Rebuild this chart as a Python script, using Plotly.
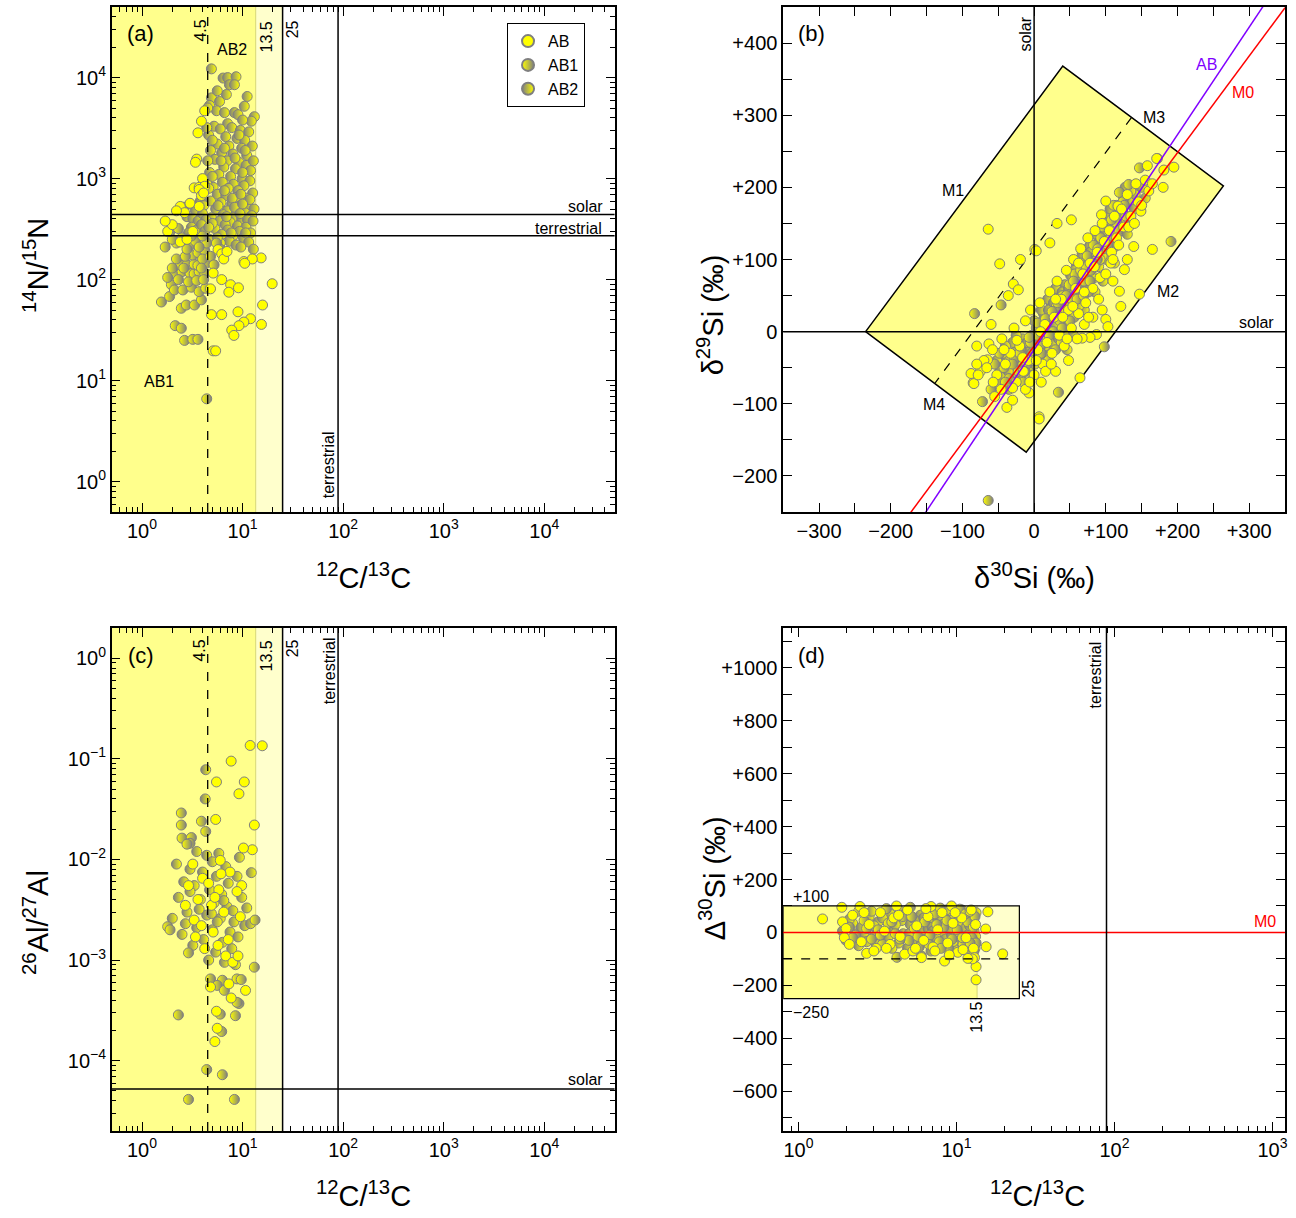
import math
import plotly.graph_objects as go

W, H = 1296, 1218
FONT = "Liberation Sans, Arial, Helvetica, sans-serif"
YEL = "#ffff00"
GRY = "#7f7f7f"
FILL_D = "#ffff8c"
FILL_L = "#ffffcc"

# ---------------- data ----------------
# panel (a): 12C/13C vs 14N/15N
a_AB = [(15.3,164),(19.7,91),(15.8,56),(15.4,36),(10.3,151),(6.2,100),(7.6,89),(9.1,83),(7.3,75),(5.1,116),
        (4.8,81),(4.9,45),(6.2,45),(9.0,48),(12.0,41),(10.3,38),(9.2,35),(7.8,31.6),(8.2,28),(5.1,19.7),
        (5.4,19.7),(5.7,198),(6.2,180),(6.5,160),(7.0,190),(3.6,2840),(3.9,3700),(4.2,4690),(3.5,1560),(3.4,1450),
        (4.0,1000),(3.3,810),(3.7,820),(4.2,840),(3.7,780),(2.4,530),(3.0,570),(3.7,530),(2.65,460),(2.4,236),
        (1.8,300),(2.0,350),(2.2,480),(3.9,680),(4.1,720),(12.5,160),(10.5,145),(1.7,380),(2.8,250),(3.2,300)]
a_AB1 = [(1.56,60),(1.88,68),(2.14,35),(2.46,33),(2.65,25),(3.2,25.6),(3.6,25.6),(4.4,6.6),(2.46,52),(2.76,56),
         (3.33,56),(3.9,63),(1.96,89),(2.1,79),(2.55,79),(3.1,84),(3.7,76),(4.3,82),(2.1,117),(2.5,120),
         (3.0,116),(3.3,114),(3.7,120),(4.2,116),(2.4,140),(2.8,140),(3.3,142),(3.6,138),(4.3,145),(3.2,175),
         (3.6,185),(4.2,195),(2.2,160),(2.7,170),(4.0,160),(1.8,105),(2.3,100),(2.9,95),(3.5,98),(4.1,100),
         (2.0,130),(2.6,130),(3.9,130),(4.4,230),(3.0,220),(3.4,240),(2.5,260),(4.0,270),(2.2,230),(3.7,210),
         (2.0,250),(2.8,200),(3.1,270),(1.9,300),(2.3,320),(1.7,210),(4.8,170),(5.2,140),(6.0,200),(5.5,230)]
a_AB2 = [(4.9,12200),(6.4,9900),(7.1,10000),(8.6,10200),(7.4,8500),(8.3,8500),(6.9,6800),(11.1,6500),(4.9,6300),(5.9,5800),
         (4.7,5300),(5.5,4700),(6.6,4500),(8.3,4500),(9.0,4300),(13.1,4100),(12.2,3700),(10.0,3800),(7.1,3500),(5.2,3300),
         (6.0,3100),(7.8,3200),(9.5,3000),(11.5,2900),(4.6,2700),(6.8,2600),(8.8,2500),(10.5,2400),(5.6,2200),(7.3,2100),
         (9.8,2000),(12.5,2100),(4.8,1900),(6.2,1800),(8.0,1750),(11.0,1700),(5.3,1550),(7.0,1500),(9.2,1450),(10.8,1350),
         (6.5,1300),(8.5,1250),(12.0,1200),(4.7,1150),(5.8,1100),(7.6,1050),(9.9,1000),(11.8,950),(6.3,920),(8.1,880),
         (10.3,850),(5.1,820),(7.2,800),(9.0,760),(12.6,720),(5.6,700),(6.8,680),(8.6,650),(10.9,640),(4.8,600),
         (6.1,580),(7.8,560),(9.5,540),(11.5,520),(13.0,500),(5.4,500),(7.0,480),(8.8,470),(10.5,460),(6.4,440),
         (8.2,420),(12.3,430),(4.9,410),(9.8,400),(11.2,390),(5.9,380),(7.5,370),(6.7,350),(8.9,340),(10.8,330),
         (5.3,320),(7.1,310),(9.3,300),(12.0,290),(6.2,280),(8.0,270),(10.2,260),(4.7,250),(7.4,240),(11.5,235),
         (6.0,230),(8.6,220),(9.6,210),(12.8,200),(2.6,520),(3.0,560),(3.4,480),(3.8,600),(4.1,540),(2.8,420),
         (3.2,400),(3.6,380),(4.0,450),(4.3,390),(3.1,330),(3.5,310),(3.9,350),(4.2,300),(2.9,290),(4.5,5000),
         (4.4,3200),(4.5,1500),(4.4,900),(5.6,7400),(10.4,5200),(9.2,2700),(6.1,1500),(10.0,1150),(5.0,1050),(7.9,640),
         (5.0,2400),(6.6,2000),(8.4,1600),(10.6,1900),(12.8,1500),(4.6,800),(6.6,760),(9.6,700),(11.8,620),(5.7,540),
         (8.3,520),(10.0,560),(12.7,380),(5.0,360),(6.9,420),(9.4,450),(4.6,330),(10.7,290),(7.7,290),(5.6,260)]

# panel (b): d30Si vs d29Si
b_AB = [(-64,142),(-48,94),(-29,66),(-36,50),(-19,100),(1,114),(22,123),(32,150),(52,155),(165,114),
        (147,52),(139,118),(-85,-71),(-38,-105),(7,-118),(64,-64),(172,240),(158,230),(100,181),(117,174),
        (149,167),(94,162),(195,228),(181,224),(171,240),(3,112),(-22,58),(-63,-17),(-65,-39),(-84,-72),
        (-7,-85),(7,-121),(126,86),(107,95),(119,56),(121,35),(100,17),(103,7),(87,-4),(78,-8),
        (67,-9),(-75,-55),(-70,-40),(-58,-25),(-52,-60),(-45,-10),(-40,-45),(-33,-30),(-28,5),(-25,-70),
        (-20,-20),(-15,-55),(-12,15),(-8,-40),(-5,30),(0,-60),(5,-25),(8,40),(12,-45),(15,10),
        (18,-15),(22,55),(25,-30),(28,20),(32,70),(35,-5),(38,45),(42,-20),(45,85),(48,30),
        (52,5),(55,100),(58,60),(62,25),(65,115),(68,80),(72,40),(75,130),(78,95),(82,60),
        (85,140),(88,110),(92,75),(95,150),(98,125),(105,140),(108,110),(112,160),(115,130),(122,170),
        (125,145),(130,190),(135,160),(142,205),(145,180),(155,210),(160,195),(-80,-45),(-88,-58),(-78,-60),
        (-55,-90),(-30,-95),(-12,-80),(10,-70),(30,-55),(48,-40),(60,-10),(70,10),(82,20),(95,30),
        (110,70),(130,100),(-60,10),(-80,-20),(-66,-50),(-57,-70),(-46,-80),(-42,-25),(-30,-78),(-24,-12),
        (-16,-36),(-6,-70),(3,-40),(9,0),(16,-55),(24,-45),(30,45),(40,20),(46,-10),(54,35),
        (62,95),(70,55),(76,20),(84,90),(90,45),(100,80),(110,100),(118,120),(132,145),(140,150),
        (150,175),(165,205),(180,200)]
b_AB1 = [(-83,25),(-46,37),(-72,-97),(34,-84),(-64,-234),(147,227),(132,204),(119,193),(191,125),(98,-21),
         (-50,-70),(-42,-50),(-35,-65),(-28,-40),(-22,-55),(-18,-25),(-10,-45),(-5,-15),(0,-35),(4,-5),
         (9,-20),(14,5),(18,-10),(23,20),(27,0),(31,35),(36,15),(40,50),(44,30),(49,65),
         (53,45),(57,80),(61,60),(66,95),(70,70),(74,105),(79,85),(83,120),(88,100),(93,130),
         (97,115),(102,150),(106,128),(111,175),(116,150),(124,180),(128,160),(-60,-80),(-55,-45),(-48,-30),
         (-15,-70),(-2,-60),(20,-40),(38,-15),(56,20),(76,55),(-40,-70),(-30,-45),(-20,-30),(-13,-55),
         (-7,-8),(-1,-40),(5,12),(10,-30),(16,18),(21,-5),(25,28),(30,-25),(33,40),(39,5),
         (45,50),(50,15),(55,70),(60,45),(65,85),(69,50),(73,90),(78,70),(82,95),(89,115),
         (96,145),(103,120),(108,155),(117,140),(126,175)]
b_AB2 = [(-45,-60),(-38,-40),(-32,-52),(-26,-28),(-20,-48),(-16,-10),(-12,-32),(-6,-50),(-3,-5),(2,-22),
         (6,10),(11,-8),(13,25),(17,3),(21,-25),(24,38),(29,10),(33,52),(37,28),(41,-2),
         (43,65),(47,42),(51,78),(54,22),(59,92),(63,48),(67,108),(71,85),(73,58),(77,118),
         (81,100),(84,75),(86,135),(90,90),(94,118),(99,140),(101,100),(104,160),(109,140),(113,118),
         (118,165),(121,140),(127,200),(133,180),(137,150),(141,190),(-25,-5),(-30,-15),(-8,-25),(8,-40),
         (16,-35),(26,-15),(46,10),(58,40),(64,75),(85,55),(-40,-20),(-52,-40),(0,15),(10,30),
         (19,45),(30,60),(-18,-62),(-35,-80),(46,-25),(55,-5),(70,30),(96,70),(112,95),(130,135),
         (150,200),(155,185),(-28,-60),(-22,-35),(-14,-45),(-10,-15),(-4,-30),(1,-45),(3,5),(7,-12),
         (12,15),(15,-20),(20,30),(22,0),(27,40),(31,20),(34,-10),(39,55),(42,35),(48,60),
         (50,30),(56,85),(60,65),(62,35),(68,90),(72,70),(75,100),(80,75),(83,110),(87,95),
         (91,125),(95,105),(100,125),(105,145),(110,125),(115,175),(120,155),(125,185),(135,195),(140,170),
         (-44,-30),(-36,-55),(-48,-50),(-24,-40),(-2,-18),(36,45),(52,50),(65,55),(78,110),(92,100),
         (106,170),(124,165)]

# panel (c): 12C/13C vs 26Al/27Al
c_AB = [(11.9,0.136),(15.7,0.135),(7.7,0.095),(5.5,0.059),(10.4,0.059),(9.2,0.045),(5.4,0.025),(13.1,0.022),(4.8,0.00054),(7.7,0.00042),
        (10.7,0.0005),(5.3,0.000155),(5.5,0.00031),(6.0,0.0098),(9.8,0.0055),(12.5,0.0125),(3.2,0.009),(4.0,0.0065),(5.8,0.005),(7.5,0.0075),
        (3.6,0.004),(4.9,0.0035),(8.8,0.0048),(2.9,0.0055),(6.5,0.003),(3.3,0.0025),(9.5,0.0027),(5.1,0.0019),(7.2,0.0016),(4.2,0.0013),
        (6.8,0.0011),(8.0,0.00095),(10.2,0.013),(5.3,0.0042),(2.7,0.0035),(4.6,0.0058),(6.1,0.0072),(3.9,0.0022),(5.7,0.0014),(9.0,0.0011),
        (3.4,0.0017),(5.6,0.00021),(7.3,0.00058)]
c_AB1 = [(2.46,0.029),(2.46,0.022),(3.9,0.024),(4.3,0.019),(2.5,0.0163),(3.1,0.0165),(3.0,0.0145),(2.8,0.0142),(1.8,0.00215),(1.9,0.002),
         (2.9,0.00118),(2.3,0.000285),(2.9,0.0000412),(8.3,0.0000412),(4.4,0.0000816),(6.3,0.0000725),(13.3,0.0025),(13.1,0.00085),(4.8,0.00065),(6.3,0.00063),
         (8.8,0.00065),(9.7,0.00064),(5.6,0.00056),(8.5,0.00028),(6.2,0.000195),(9.2,0.00037),(6.6,0.0005),(6.0,0.00029),(8.8,0.00038)]
c_AB2 = [(4.3,0.078),(4.25,0.040),(3.5,0.012),(4.4,0.011),(5.0,0.0095),(2.2,0.009),(3.0,0.008),(4.0,0.0075),(5.5,0.0068),(2.6,0.006),
         (3.3,0.0055),(4.7,0.005),(6.2,0.0045),(2.3,0.0042),(3.8,0.004),(5.2,0.0037),(7.0,0.0034),(2.8,0.003),(4.4,0.0028),(6.0,0.0026),
         (8.2,0.0024),(3.5,0.0021),(5.0,0.002),(7.5,0.0019),(2.5,0.0018),(4.1,0.0016),(6.3,0.0015),(9.0,0.0017),(3.2,0.0014),(5.4,0.0012),
         (7.8,0.0013),(10.5,0.0022),(4.6,0.001),(6.6,0.00095),(8.5,0.0009),(12.0,0.0023),(11.0,0.0033),(9.8,0.0042),(7.2,0.0058),(8.8,0.0068),
         (6.8,0.0085),(9.3,0.0105),(12.2,0.0074),(5.8,0.0115),(3.7,0.0032),(2.0,0.0026),(4.9,0.0029),(3.0,0.0048),(6.5,0.0039),(5.6,0.0024),
         (8.0,0.0031),(2.7,0.0023)]

# panel (d): 12C/13C vs Delta30Si
d_AB = [(1.42,51),(15.8,78),(15.3,13),(15.4,-54),(19.6,-81),(13.3,-129),(13.3,-179),(2.7,-79),(4.7,-82),(8.4,-108),
        (1.88,95),(2.45,98),(4.17,100),(6.9,98),(9.3,100),(1.9,40),(2.0,15),(1.95,-20),(2.2,65),(2.5,-35),
        (2.8,30),(3.1,-60),(3.3,75),(3.5,5),(3.8,-45),(4.0,55),(4.4,-15),(4.9,85),(5.3,-70),(5.6,25),
        (6.2,-30),(6.6,60),(7.1,-55),(7.6,10),(8.1,75),(8.8,-40),(9.5,35),(10.2,-75),(10.8,55),(11.5,-20),
        (12.2,80),(12.8,-60),(13.2,30),(13.0,-95),(12.6,-100),(11.8,-98),(6.0,-95),(3.0,-70),(9.0,-85),
        (2.1,-45),(2.6,75),(3.6,-60),(4.3,65),(5.5,-60),(6.4,90),(7.3,-70),(9.8,75),(11.0,-65),(12.4,85)]
d_AB1 = [(4.2,-94),(6.0,-89),(2.1,20),(2.3,-10),(2.6,45),(2.9,-25),(3.2,10),(3.4,-45),(3.7,35),(4.1,-5),
         (4.6,60),(5.0,-30),(5.4,15),(5.8,-55),(6.3,40),(6.8,-10),(7.3,70),(7.8,-35),(8.3,20),(8.9,-60),
         (9.6,50),(10.3,-5),(11.0,-45),(11.8,40),(12.5,-20),(13.1,60),(13.3,-40),(12.9,-70),(2.4,80),(3.6,90),
         (5.1,95),(7.9,92),(10.5,88),(2.2,-20),(2.7,15),(3.3,-10),(3.9,40),(4.4,-25),(5.2,60),(5.7,-15),
         (6.7,-45),(7.5,30),(8.0,-60),(8.7,45),(9.4,-25),(10.1,10),(10.9,-20),(11.4,70),(12.2,-40),(12.8,20)]
d_AB2 = [(1.9,5),(2.0,-30),(2.2,35),(2.4,-50),(2.6,0),(2.8,60),(3.0,-15),(3.2,40),(3.5,-30),(3.8,70),
         (4.0,15),(4.3,-40),(4.5,45),(4.8,-20),(5.1,30),(5.5,-45),(5.9,65),(6.1,5),(6.4,-25),(6.8,35),
         (7.2,-45),(7.6,50),(8.0,0),(8.5,-25),(8.9,70),(9.3,-10),(9.9,25),(10.6,-40),(11.2,15),(11.9,-65),
         (12.4,55),(12.9,5),(13.2,-15),(13.3,75),(3.0,25),(4.6,-5),(6.6,15),(9.0,45),(11.5,-30),(5.3,55),
         (7.0,20),(8.7,-50),(10.0,65),(12.0,-5),(2.3,-5),(3.9,-60),(6.9,-70),(9.7,-65),(10.8,85),(4.4,80),
         (13.0,35),(12.7,-50),(2.1,50),(2.5,20),(2.7,-35),(2.9,80),(3.1,-45),(3.4,55),(3.7,-15),(4.1,30),
         (4.7,70),(5.0,-5),(5.7,40),(6.0,-40),(6.5,80),(7.1,5),(7.4,-20),(7.8,60),(8.2,30),(8.4,-55),
         (9.1,15),(9.5,-35),(10.2,40),(10.4,-15),(11.0,60),(11.6,-50),(12.1,25),(12.6,-25),(13.1,-60),(4.9,-60),
         (6.2,55),(8.6,85)]

# reference values
C_lo, C_mid, C_hi, C_terr = 4.5, 13.5, 25, 89
N_solar, N_terr = 441, 272
Al_solar = 5.23e-5
M0_slope, M0_icpt = 1.34, -20
AB_slope, AB_icpt = 1.49, -25
box_b_x = [-235, 40, 264, -11, -235]
box_b_y = [0, 368, 202, -167, 0]
m34_x = [136, -138]
m34_y = [297, -71]
d_box_y = [-250, 100]
d_dash_y = -100

log_ticks_a = [1, 10, 100, 1000, 10000]
log_text_a = ["10<sup>0</sup>", "10<sup>1</sup>", "10<sup>2</sup>", "10<sup>3</sup>", "10<sup>4</sup>"]
log_ticks_c = [1, 0.1, 0.01, 0.001, 0.0001]
log_text_c = ["10<sup>0</sup>", "10<sup>\u22121</sup>", "10<sup>\u22122</sup>", "10<sup>\u22123</sup>", "10<sup>\u22124</sup>"]
log_ticks_d = [1, 10, 100, 1000]
log_text_d = ["10<sup>0</sup>", "10<sup>1</sup>", "10<sup>2</sup>", "10<sup>3</sup>"]
b_xticks = [-300, -200, -100, 0, 100, 200, 300]
b_yticks = [-200, -100, 0, 100, 200, 300, 400]
d_yticks = [-600, -400, -200, 0, 200, 400, 600, 800, 1000]


def signed(v):
    return "0" if v == 0 else ("+%d" % v if v > 0 else "\u2212%d" % abs(v))

# ---------------- figure ----------------
fig = go.Figure()

def xp(p): return p / W
def yp(p): return 1 - p / H

doms = {1: ([112, 616], [7, 512]), 2: ([785, 1288], [7, 512]),
        3: ([112, 616], [628, 1131]), 4: ([785, 1288], [628, 1131])}

def axn(n, c):
    return c if n == 1 else "%s%d" % (c, n)

def add_pts(pts, group, n):
    xs = [p[0] for p in pts]
    ys = [p[1] for p in pts]
    mk = dict(size=10, line=dict(color=GRY, width=1))
    if group == "AB":
        mk["color"] = YEL
        rank = 1
    elif group == "AB1":
        mk["color"] = YEL
        mk["gradient"] = dict(type="horizontal", color=GRY)
        rank = 2
    else:
        mk["color"] = GRY
        mk["gradient"] = dict(type="horizontal", color=YEL)
        rank = 3
    fig.add_trace(go.Scatter(x=xs, y=ys, mode="markers", marker=mk, name=group,
                             legendrank=rank, showlegend=(n == 1),
                             xaxis=axn(n, "x"), yaxis=axn(n, "y"), hoverinfo="skip"))

# panel b box (behind points)
fig.add_trace(go.Scatter(x=box_b_x, y=box_b_y, mode="lines", fill="toself", fillcolor=FILL_D,
                         line=dict(color="black", width=1.5), showlegend=False,
                         xaxis="x2", yaxis="y2", hoverinfo="skip"))
fig.add_trace(go.Scatter(x=m34_x, y=m34_y, mode="lines", line=dict(color="black", width=1.2, dash="dash"),
                         showlegend=False, xaxis="x2", yaxis="y2", hoverinfo="skip"))

for n, groups in [(1, (a_AB2, a_AB1, a_AB)), (2, (b_AB2, b_AB1, b_AB)),
                  (3, (c_AB2, c_AB1, c_AB)), (4, (d_AB2, d_AB1, d_AB))]:
    add_pts(groups[0], "AB2", n)
    add_pts(groups[1], "AB1", n)
    add_pts(groups[2], "AB", n)

# correlation lines in (b)
lx = [-350, 350]
fig.add_trace(go.Scatter(x=lx, y=[M0_slope * v + M0_icpt for v in lx], mode="lines",
                         line=dict(color="#ff0000", width=1.5), showlegend=False,
                         xaxis="x2", yaxis="y2", hoverinfo="skip"))
fig.add_trace(go.Scatter(x=lx, y=[AB_slope * v + AB_icpt for v in lx], mode="lines",
                         line=dict(color="#8000ff", width=1.5), showlegend=False,
                         xaxis="x2", yaxis="y2", hoverinfo="skip"))

shapes = []
def vline(n, x, color="black", width=1.5, dash="solid", layer="above", y0=0, y1=1, yref=None):
    shapes.append(dict(type="line", xref=axn(n, "x"), yref=yref or (axn(n, "y") + " domain"),
                       x0=x, x1=x, y0=y0, y1=y1, line=dict(color=color, width=width, dash=dash), layer=layer))
def hline(n, y, color="black", width=1.5, dash="solid", layer="above", x0=0, x1=1, xref=None):
    shapes.append(dict(type="line", yref=axn(n, "y"), xref=xref or (axn(n, "x") + " domain"),
                       x0=x0, x1=x1, y0=y, y1=y, line=dict(color=color, width=width, dash=dash), layer=layer))

for n, xmin in [(1, 0.5), (3, 0.5)]:
    shapes.append(dict(type="rect", xref=axn(n, "x"), yref=axn(n, "y") + " domain", x0=xmin, x1=C_mid,
                       y0=0, y1=1, fillcolor=FILL_D, line=dict(width=0), layer="below"))
    shapes.append(dict(type="rect", xref=axn(n, "x"), yref=axn(n, "y") + " domain", x0=C_mid, x1=C_hi,
                       y0=0, y1=1, fillcolor=FILL_L, line=dict(width=0), layer="below"))
    vline(n, C_mid, color="#d8d870", width=1, layer="below")
    vline(n, C_hi)
    vline(n, C_terr)
    vline(n, C_lo, width=1.3, dash="dash")
hline(1, N_solar)
hline(1, N_terr)
hline(3, Al_solar)

# panel b solar lines
vline(2, 0)
hline(2, 0)

# panel d
shapes.append(dict(type="rect", xref="x4", yref="y4", x0=0.8, x1=C_mid, y0=d_box_y[0], y1=d_box_y[1],
                   fillcolor=FILL_D, line=dict(width=0), layer="below"))
shapes.append(dict(type="rect", xref="x4", yref="y4", x0=C_mid, x1=C_hi, y0=d_box_y[0], y1=d_box_y[1],
                   fillcolor=FILL_L, line=dict(width=0), layer="below"))
vline(4, C_mid, color="#d8d870", width=1, layer="below", y0=d_box_y[0], y1=d_box_y[1], yref="y4")
shapes.append(dict(type="rect", xref="x4", yref="y4", x0=0.8, x1=C_hi, y0=d_box_y[0], y1=d_box_y[1],
                   fillcolor="rgba(0,0,0,0)", line=dict(color="black", width=1.2), layer="above"))
hline(4, d_dash_y, width=1.3, dash="dash", x0=0.8, x1=C_hi, xref="x4")
hline(4, 0, color="#ff0000", width=1.5)
vline(4, C_terr)

fig.update_layout(shapes=shapes)

# annotations (text labels)
anns = []
def ann(text, x, y, size=16, color="black", angle=0, xanchor="center", yanchor="middle"):
    anns.append(dict(text=text, x=xp(x), y=yp(y), xref="paper", yref="paper", showarrow=False,
                     font=dict(size=size, color=color, family=FONT), textangle=angle,
                     xanchor=xanchor, yanchor=yanchor))

# panel a
ann("(a)", 141, 33, size=22)
ann("4.5", 200, 31, angle=-90)
ann("AB2", 233, 50)
ann("13.5", 267, 37, angle=-90)
ann("25", 293, 29, angle=-90)
ann("solar", 606, 206, xanchor="right")
ann("terrestrial", 605, 229, xanchor="right")
ann("AB1", 159, 382)
ann("terrestrial", 330, 465, angle=-90)
# panel b
ann("(b)", 813, 33, size=22)
ann("solar", 1028, 34, angle=-90)
ann("M1", 955, 190)
ann("M3", 1157, 118)
ann("M2", 1171, 291)
ann("M4", 936, 404)
ann("AB", 1209, 64, color="#8000ff")
ann("M0", 1246, 93, color="#ff0000")
ann("solar", 1279, 322, xanchor="right")
# panel c
ann("(c)", 141, 655, size=22)
ann("4.5", 199, 651, angle=-90)
ann("13.5", 267, 656, angle=-90)
ann("25", 293, 648, angle=-90)
ann("terrestrial", 330, 671, angle=-90)
ann("solar", 606, 1079, xanchor="right")
# panel d
ann("(d)", 813, 655, size=22)
ann("terrestrial", 1098, 675, angle=-90)
ann("+100", 813, 896)
ann("\u2212250", 813, 1012)
ann("13.5", 978, 1017, angle=-90)
ann("25", 1031, 989, angle=-90)
ann("M0", 1268, 921, color="#ff0000")

# axis titles
TS = 29
ann("<sup>14</sup>N/<sup>15</sup>N", 36, 265, size=TS, angle=-90)
ann("<sup>12</sup>C/<sup>13</sup>C", 364, 576, size=TS)
ann("\u03b4<sup>29</sup>Si (\u2030)", 712, 315, size=TS, angle=-90)
ann("\u03b4<sup>30</sup>Si (\u2030)", 1037, 576, size=TS)
ann("<sup>26</sup>Al/<sup>27</sup>Al", 36, 922, size=TS, angle=-90)
ann("<sup>12</sup>C/<sup>13</sup>C", 364, 1194, size=TS)
ann("\u0394<sup>30</sup>Si (\u2030)", 714, 878, size=TS, angle=-90)
ann("<sup>12</sup>C/<sup>13</sup>C", 1040, 1194, size=TS)

fig.update_layout(annotations=anns)

base = dict(showline=True, linecolor="black", linewidth=1.5, mirror="ticks", ticks="inside",
            ticklen=9, tickwidth=1, tickcolor="black", showgrid=False, zeroline=False,
            tickfont=dict(size=20, family=FONT, color="black"))
minor_log = dict(ticks="inside", ticklen=5, tickwidth=1, tickcolor="black", dtick="D1", showgrid=False)

def dom_x(n): return [xp(doms[n][0][0]), xp(doms[n][0][1])]
def dom_y(n): return [yp(doms[n][1][1]), yp(doms[n][1][0])]

fig.update_layout(
    xaxis=dict(base, type="log", domain=dom_x(1), anchor="y", range=[math.log10(0.5), math.log10(5e4)],
               tickvals=log_ticks_a, ticktext=log_text_a, minor=minor_log),
    yaxis=dict(base, type="log", domain=dom_y(1), anchor="x", range=[math.log10(0.5), math.log10(5e4)],
               tickvals=log_ticks_a, ticktext=log_text_a, minor=minor_log),
    xaxis2=dict(base, domain=dom_x(2), anchor="y2", range=[-350, 350],
                tickvals=b_xticks, ticktext=[signed(v) for v in b_xticks],
                minor=dict(ticks="inside", ticklen=9, tickwidth=1, tickcolor="black", dtick=50, showgrid=False)),
    yaxis2=dict(base, domain=dom_y(2), anchor="x2", range=[-250, 450],
                tickvals=b_yticks, ticktext=[signed(v) for v in b_yticks],
                minor=dict(ticks="inside", ticklen=9, tickwidth=1, tickcolor="black", dtick=50, showgrid=False)),
    xaxis3=dict(base, type="log", domain=dom_x(3), anchor="y3", range=[math.log10(0.5), math.log10(5e4)],
                tickvals=log_ticks_a, ticktext=log_text_a, minor=minor_log),
    yaxis3=dict(base, type="log", domain=dom_y(3), anchor="x3", range=[math.log10(2e-5), math.log10(2)],
                tickvals=log_ticks_c, ticktext=log_text_c, minor=minor_log),
    xaxis4=dict(base, type="log", domain=dom_x(4), anchor="y4", range=[math.log10(0.8), math.log10(1200)],
                tickvals=log_ticks_d, ticktext=log_text_d, minor=minor_log),
    yaxis4=dict(base, domain=dom_y(4), anchor="x4", range=[-750, 1150],
                tickvals=d_yticks, ticktext=[signed(v) for v in d_yticks],
                minor=dict(ticks="inside", ticklen=9, tickwidth=1, tickcolor="black", dtick=100, showgrid=False)),
    width=W, height=H, margin=dict(l=0, r=0, t=0, b=0),
    paper_bgcolor="white", plot_bgcolor="white",
    font=dict(family=FONT, color="black"),
    legend=dict(x=xp(508), y=yp(23), xanchor="left", yanchor="top", bgcolor="white",
                bordercolor="black", borderwidth=1.2, font=dict(size=16, family=FONT),
                itemsizing="constant", tracegroupgap=0),
)

fig.write_html("out.html")
